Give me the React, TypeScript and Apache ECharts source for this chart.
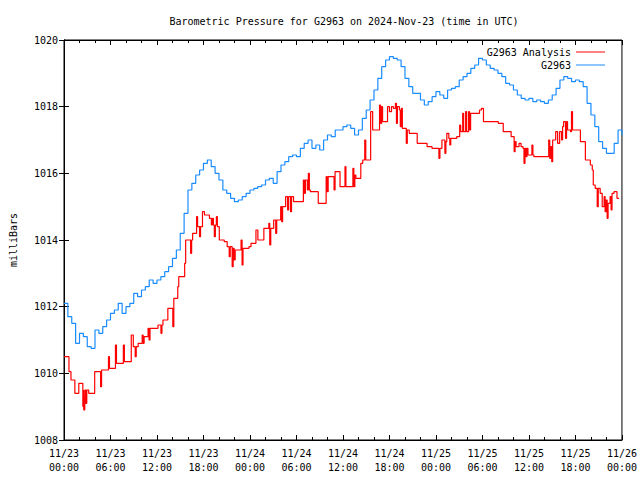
import React, { useEffect, useRef } from "react";
import * as echarts from "echarts";

const TITLE = "Barometric Pressure for G2963 on 2024-Nov-23 (time in UTC)";
const Y_NAME = "milliBars";
const SERIES_ANALYSIS = "G2963 Analysis";
const SERIES_OBS = "G2963";
const START_DAY = 23;
const MONTH = 11;

// G2963 observed pressure, every 0.5 h from 11/23 00:00 UTC
const BLUE_STEP_H = 0.5;
const blueValues: number[] = [
  1012.1, 1011.7, 1011.5, 1010.9, 1011.2, 1011.1, 1010.8, 1010.75, 1011.3, 1011.2,
  1011.4, 1011.6, 1011.8, 1011.9, 1012.1, 1011.8, 1012.0, 1012.1, 1012.4, 1012.3,
  1012.5, 1012.6, 1012.8, 1012.7, 1012.8, 1012.9, 1013.05, 1013.2, 1013.45, 1013.7,
  1014.2, 1014.8, 1015.5, 1015.7, 1015.95, 1016.1, 1016.3, 1016.4, 1016.2, 1016.0,
  1015.8, 1015.5, 1015.4, 1015.25, 1015.15, 1015.2, 1015.3, 1015.4, 1015.5, 1015.55,
  1015.6, 1015.65, 1015.8, 1015.85, 1015.7, 1016.05, 1016.25, 1016.35, 1016.5, 1016.55,
  1016.5, 1016.75, 1016.9, 1017.0, 1016.75, 1016.85, 1016.7, 1017.0, 1017.15, 1017.1,
  1017.3, 1017.3, 1017.4, 1017.45, 1017.35, 1017.15, 1017.3, 1017.65, 1017.9, 1018.2,
  1018.5, 1018.85, 1019.2, 1019.4, 1019.5, 1019.45, 1019.4, 1019.2, 1018.85, 1018.6,
  1018.4, 1018.4, 1018.2, 1018.05, 1018.15, 1018.3, 1018.45, 1018.35, 1018.25, 1018.5,
  1018.55, 1018.6, 1018.8, 1018.9, 1019.0, 1019.15, 1019.25, 1019.45, 1019.4, 1019.25,
  1019.15, 1019.1, 1019.0, 1018.9, 1018.7, 1018.65, 1018.5, 1018.35, 1018.25, 1018.2,
  1018.25, 1018.15, 1018.2, 1018.15, 1018.1, 1018.2, 1018.35, 1018.55, 1018.8, 1018.9,
  1018.85, 1018.75, 1018.8, 1018.75, 1018.6, 1018.1, 1017.75, 1017.4, 1016.95, 1016.75,
  1016.6, 1016.6, 1016.9, 1017.3, 1017.15,
];

// G2963 Analysis: [hours since 11/23 00:00, mbar], drawn as steps
const analysisData: [number, number][] = [
  [0, 1010.5], [0.64, 1010.05], [0.9, 1009.8], [1.4, 1009.4], [1.91, 1009.7],
  [2.43, 1009.0], [2.5, 1009.5], [2.55, 1008.9], [2.68, 1009.5], [2.81, 1009.1],
  [2.94, 1009.5], [3.19, 1009.4], [3.96, 1010.05], [4.72, 1009.6], [4.85, 1010.1],
  [5.74, 1010.5], [5.87, 1010.15], [6.64, 1010.85], [6.77, 1010.3], [7.66, 1010.85],
  [7.79, 1010.35], [8.68, 1011.15], [8.94, 1010.8], [9.19, 1010.5], [9.32, 1010.8],
  [9.57, 1010.9], [10.09, 1011.15], [10.21, 1010.9], [10.34, 1011.1], [10.85, 1011.35],
  [10.98, 1011.0], [11.1, 1011.35], [12.13, 1011.45], [12.51, 1011.2], [12.64, 1011.45],
  [12.77, 1011.6], [13.4, 1011.95], [14.04, 1011.4], [14.17, 1012.25], [14.68, 1012.6],
  [14.81, 1012.9], [15.57, 1013.3], [15.7, 1014.0], [16.34, 1013.6], [16.47, 1014.0],
  [16.6, 1014.2], [17.11, 1014.7], [17.24, 1014.4], [17.49, 1014.1], [17.62, 1014.4],
  [17.87, 1014.85], [18.13, 1014.75], [18.77, 1014.65], [19.02, 1014.45], [19.15, 1014.65],
  [19.28, 1014.45], [19.4, 1014.1], [19.53, 1014.45], [19.66, 1014.7], [19.79, 1014.4],
  [20.04, 1014.0], [20.68, 1013.95], [21.06, 1013.8], [21.32, 1013.5], [21.45, 1013.8],
  [21.7, 1013.2], [21.83, 1013.75], [21.96, 1013.4], [22.09, 1013.7], [22.85, 1014.0],
  [22.98, 1013.25], [23.1, 1013.75], [23.87, 1013.8], [24.13, 1013.9], [24.77, 1014.3],
  [25.02, 1014.0], [25.79, 1014.35], [26.43, 1014.5], [26.55, 1013.85], [26.68, 1014.35],
  [27.06, 1014.6], [27.32, 1014.2], [27.45, 1014.6], [27.96, 1015.0], [28.09, 1014.55],
  [28.21, 1015.0], [28.6, 1015.3], [28.85, 1014.9], [28.98, 1015.3], [29.23, 1014.85],
  [29.36, 1015.3], [29.62, 1015.15], [30.89, 1015.8], [31.02, 1015.4], [31.15, 1015.8],
  [31.4, 1015.5], [31.53, 1016.0], [31.66, 1015.5], [31.79, 1015.45], [32.81, 1015.1],
  [33.83, 1015.9], [33.96, 1015.45], [34.09, 1015.9], [34.85, 1015.5], [34.98, 1016.05],
  [35.62, 1015.6], [36.26, 1016.2], [36.38, 1015.6], [37.28, 1016.15], [37.4, 1015.6],
  [37.53, 1015.95], [37.66, 1015.85], [38.3, 1016.3], [38.55, 1016.4], [38.81, 1017.0],
  [38.94, 1016.4], [39.57, 1017.85], [39.83, 1017.3], [40.72, 1018.05], [40.85, 1017.5],
  [40.98, 1018.0], [41.11, 1017.55], [41.75, 1018.0], [42.0, 1017.85], [42.26, 1018.0],
  [42.51, 1017.95], [42.77, 1018.1], [42.9, 1017.5], [43.02, 1018.0], [43.28, 1017.9],
  [43.4, 1017.4], [43.53, 1017.95], [43.66, 1017.35], [44.17, 1016.9], [44.3, 1017.3],
  [44.55, 1017.2], [45.58, 1016.9], [46.85, 1016.8], [47.49, 1016.75], [48.38, 1016.45],
  [48.51, 1016.75], [48.77, 1017.0], [49.15, 1016.6], [49.28, 1016.95], [49.4, 1017.2],
  [49.66, 1017.05], [49.79, 1016.85], [49.91, 1017.05], [50.68, 1017.1], [51.06, 1017.45],
  [51.19, 1017.25], [51.45, 1017.8], [51.57, 1017.25], [51.83, 1017.85], [51.96, 1017.25],
  [52.21, 1017.85], [52.34, 1017.3], [52.47, 1017.8], [53.62, 1017.9], [53.87, 1017.95],
  [54.13, 1017.55], [56.04, 1017.5], [56.68, 1017.25], [57.7, 1017.1], [58.09, 1016.65],
  [58.21, 1016.95], [58.34, 1016.8], [58.72, 1016.9], [58.98, 1016.8], [59.23, 1016.75],
  [59.36, 1016.3], [59.49, 1016.75], [59.62, 1016.5], [59.74, 1016.75], [59.87, 1016.55],
  [60.38, 1016.85], [60.51, 1016.55], [60.64, 1016.5], [62.55, 1017.0], [62.68, 1016.45],
  [62.81, 1016.8], [62.94, 1016.35], [63.06, 1017.0], [63.45, 1017.25], [63.7, 1016.9],
  [63.96, 1017.25], [64.21, 1017.0], [64.34, 1017.4], [64.47, 1017.55], [64.72, 1017.05],
  [64.85, 1017.55], [64.98, 1017.3], [65.36, 1017.25], [65.49, 1017.85], [65.62, 1017.3],
  [66.64, 1016.95], [67.28, 1016.4], [67.92, 1016.25], [68.17, 1016.1], [68.3, 1015.65],
  [68.55, 1015.55], [68.81, 1015.0], [68.94, 1015.55], [69.19, 1015.4], [69.45, 1015.0],
  [69.7, 1015.3], [69.83, 1014.85], [69.96, 1015.2], [70.09, 1014.65], [70.21, 1015.1],
  [70.47, 1015.3], [70.6, 1014.9], [70.72, 1015.4], [70.98, 1015.45], [71.36, 1015.25],
  [71.62, 1015.25],
];

const Y_MIN = 1008;
const Y_MAX = 1020;
const Y_STEP = 2;
const X_MIN_H = 0;
const X_MAX_H = 72;
const X_STEP_H = 6;

const FONT = "'DejaVu Sans Mono', 'Liberation Mono', monospace";
const RED = "#ff0000";
const BLUE = "#1a8cff";

function hourLabel(h: number): string {
  const day = START_DAY + Math.floor(h / 24);
  const hh = Math.round(h % 24);
  return `${MONTH}/${day}\n${String(hh).padStart(2, "0")}:00`;
}

export default function App() {
  const ref = useRef<HTMLDivElement | null>(null);

  useEffect(() => {
    if (!ref.current) return;
    const chart = echarts.init(ref.current, undefined, { renderer: "svg" });
    const blueData = blueValues.map((v, i) => [i * BLUE_STEP_H, v]);

    const tickCommon = {
      axisTick: { show: true, inside: true, length: 5, lineStyle: { color: "#000", width: 1 } },
      minorTick: { show: true, splitNumber: 3, length: 3, lineStyle: { color: "#000", width: 1 } },
    };

    chart.setOption({
      animation: false,
      backgroundColor: "#fff",
      title: {
        text: TITLE,
        left: 339,
        top: 11,
        textAlign: "center",
        textStyle: { fontFamily: FONT, fontSize: 10, fontWeight: "normal", color: "#000" },
      },
      legend: {
        orient: "vertical",
        align: "right",
        right: 30,
        top: 41,
        itemWidth: 29,
        itemHeight: 1,
        itemGap: 1,
        icon: "rect",
        textStyle: { fontFamily: FONT, fontSize: 10, color: "#000", lineHeight: 12 },
        data: [
          { name: SERIES_ANALYSIS, icon: "rect", itemStyle: { color: RED } },
          { name: SERIES_OBS, icon: "rect", itemStyle: { color: BLUE } },
        ],
        selectedMode: false,
      },
      grid: {
        left: 58,
        right: 18,
        top: 40,
        bottom: 40,
        show: true,
        borderColor: "#000",
        borderWidth: 1,
      },
      xAxis: [
        {
          type: "value",
          min: X_MIN_H,
          max: X_MAX_H,
          interval: X_STEP_H,
          position: "bottom",
          axisLine: { show: true, lineStyle: { color: "#000" } },
          ...tickCommon,
          splitLine: { show: false },
          axisLabel: {
            show: true,
            margin: 6,
            fontFamily: FONT,
            fontSize: 10,
            color: "#000",
            lineHeight: 14,
            showMinLabel: true,
            showMaxLabel: true,
            formatter: (v: number) => hourLabel(v),
          },
        },
        {
          type: "value",
          min: X_MIN_H,
          max: X_MAX_H,
          interval: X_STEP_H,
          position: "top",
          axisLine: { show: true, lineStyle: { color: "#000" } },
          ...tickCommon,
          splitLine: { show: false },
          axisLabel: { show: false },
        },
      ],
      yAxis: [
        {
          type: "value",
          min: Y_MIN,
          max: Y_MAX,
          interval: Y_STEP,
          position: "left",
          name: Y_NAME,
          nameLocation: "middle",
          nameGap: 46,
          nameTextStyle: { fontFamily: FONT, fontSize: 10, color: "#000" },
          axisLine: { show: true, lineStyle: { color: "#000" } },
          axisTick: { show: true, inside: true, length: 5, lineStyle: { color: "#000" } },
          splitLine: { show: false },
          axisLabel: {
            fontFamily: FONT,
            fontSize: 10,
            color: "#000",
            margin: 6,
            formatter: (v: number) => String(v),
          },
        },
        {
          type: "value",
          min: Y_MIN,
          max: Y_MAX,
          interval: Y_STEP,
          position: "right",
          axisLine: { show: true, lineStyle: { color: "#000" } },
          axisTick: { show: true, inside: true, length: 5, lineStyle: { color: "#000" } },
          splitLine: { show: false },
          axisLabel: { show: false },
        },
      ],
      series: [
        {
          name: SERIES_ANALYSIS,
          type: "line",
          step: "end",
          data: analysisData,
          symbol: "none",
          silent: true,
          color: RED,
          lineStyle: { color: RED, width: 1.2 },
          xAxisIndex: 0,
          yAxisIndex: 0,
        },
        {
          name: SERIES_OBS,
          type: "line",
          step: "end",
          data: blueData,
          symbol: "none",
          silent: true,
          color: BLUE,
          lineStyle: { color: BLUE, width: 1.2 },
          xAxisIndex: 0,
          yAxisIndex: 0,
        },
      ],
    });
    return () => chart.dispose();
  }, []);

  return <div ref={ref} style={{ width: 640, height: 480, position: "absolute", left: 0, top: 0 }} />;
}
